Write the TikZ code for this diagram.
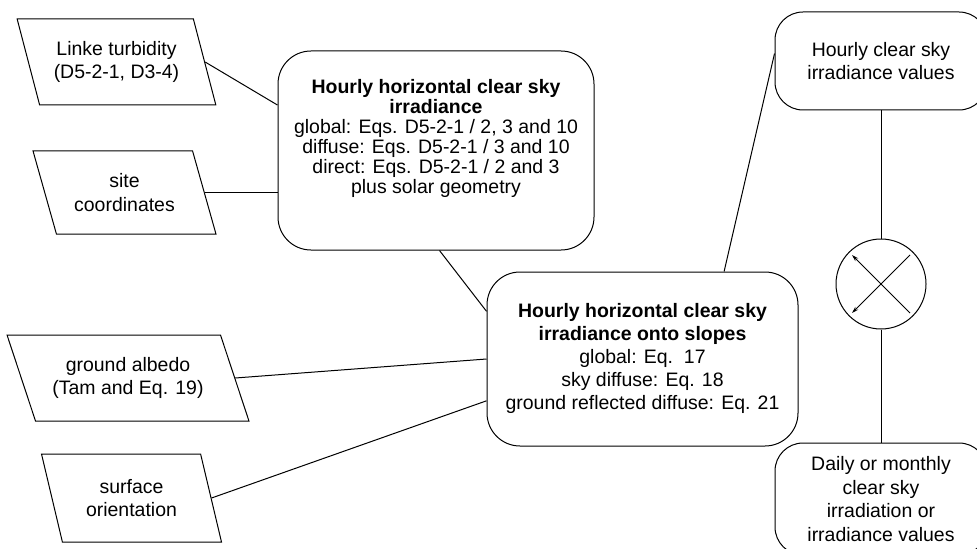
\documentclass[tikz,border=0pt]{standalone}
\usepackage{fontspec}
\setmainfont{Liberation Sans}
\usetikzlibrary{shapes.geometric,arrows.meta,calc}
\begin{document}
\begin{tikzpicture}[x=0.75pt,y=-0.75pt,line width=0.75pt,
  every node/.style={font=\fontsize{14.6}{17.6}\selectfont,align=center,text=black},
  rbox/.style={draw,rectangle,rounded corners=24.75pt,inner sep=0pt},
  sbox/.style={draw,rectangle,rounded corners=21pt,inner sep=0pt,minimum width=159pt},
  para/.style={draw,trapezium,trapezium stretches=true,inner sep=0pt},
  label1/.style={font=\fontsize{14.6}{15}\selectfont,inner sep=0pt},
  label2/.style={font=\fontsize{14.6}{17.25}\selectfont,inner sep=0pt},
  conn/.style={draw,line width=0.75pt},
  xarrow/.style={-{Stealth[length=5pt,width=3pt]},line width=0.75pt}]
\useasboundingbox (0,0) rectangle (977,549);
\clip (0,0) rectangle (977,549);

% input parallelograms
\node[para,trapezium left angle=113.8,trapezium right angle=66.2,
      minimum width=149.25pt,minimum height=64.5pt] (lt) at (116.5,62)
      {Linke turbidity\\(D5-2-1, D3-4)};
\node[para,trapezium left angle=114.6,trapezium right angle=65.4,
      minimum width=137.25pt,minimum height=62.25pt] (site) at (124.5,192.5)
      {site\\coordinates};
\node[para,trapezium left angle=119.2,trapezium right angle=60.8,
      minimum width=181.5pt,minimum height=64.5pt] (alb) at (128,378)
      {ground albedo\\(Tam and Eq. 19)};
\node[para,trapezium left angle=110,trapezium right angle=70,
      minimum width=135.75pt,minimum height=66pt] (surf) at (131.5,498)
      {surface\\orientation};

% process boxes
\node[rbox,minimum width=237pt,minimum height=149.25pt] (b1) at (436,150.5) {};
\node[label1] (b1t) at (436,138)
  {\textbf{Hourly horizontal clear sky}\\\textbf{irradiance}\\
   global: Eqs. D5-2-1 / 2, 3 and 10\\
   diffuse: Eqs. D5-2-1 / 3 and 10\\
   direct: Eqs. D5-2-1 / 2 and 3\\
   plus solar geometry};
\node[rbox,minimum width=233.25pt,minimum height=130.5pt] (b2) at (642.5,359) {};
\node[label2] (b2t) at (642.5,358)
  {\textbf{Hourly horizontal clear sky}\\\textbf{irradiance onto slopes}\\
   global: Eq.\ \ 17\\
   sky diffuse: Eq. 18\\
   ground reflected diffuse: Eq. 21};

% output boxes
\node[sbox,minimum height=73.5pt] (hc) at (881,61)
  {Hourly clear sky\\irradiance values};
\node[draw,circle,minimum size=67.5pt,inner sep=0pt] (circ) at (881,284) {};
\node[sbox,minimum height=84pt] (daily) at (881,499)
  {Daily or monthly\\clear sky\\irradiation or\\irradiance values};

% connectors
\draw[conn] (lt.east) -- (b1.164.9);
\draw[conn] (site.east) -- (site.east -| b1.west);
\draw[conn] (alb.east) -- (b2.west);
\draw[conn] (surf.east) -- (b2.195.8);
\draw[conn] (b1.272.3) -- (b2.163.5);
\draw[conn] (b2.47.6) -- (hc.176.6);
\draw[conn] (hc.south) -- (circ.north);
\draw[conn] (circ.south) -- (daily.north);

% cross arrows inside the circle
\draw[xarrow] ($(circ.center)+(29,29)$) -- ($(circ.center)+(-29,-29)$);
\draw[xarrow] ($(circ.center)+(29,-29)$) -- ($(circ.center)+(-29,29)$);
\end{tikzpicture}
\end{document}
